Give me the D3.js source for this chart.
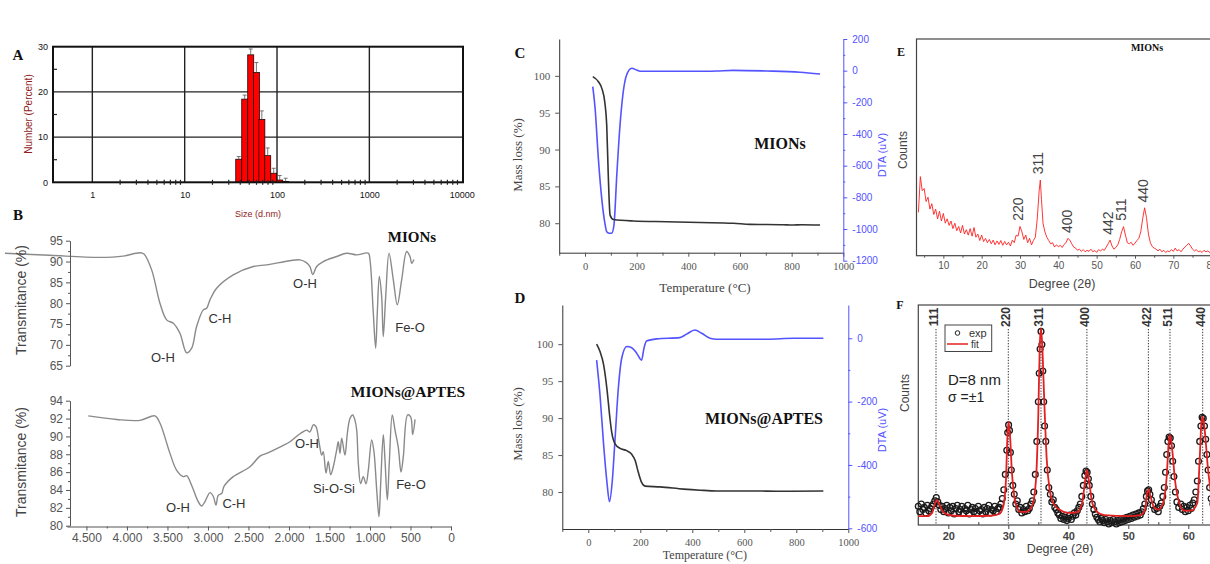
<!DOCTYPE html>
<html>
<head>
<meta charset="utf-8">
<script src="https://cdn.jsdelivr.net/npm/d3@7.9.0/dist/d3.min.js"></script>
<style>
  html, body { margin: 0; padding: 0; background: #fff; }
  svg { display: block; }
</style>
</head>
<body>
<svg id="fig" width="1210" height="564"></svg>
<script>
// ---------- data ----------
// A: DLS number distribution
const sizeBins = [38.5, 44.7, 51.9, 59.8, 68.5, 79.3, 92.1, 107, 124];
const sizeNumber = [5.1, 18.4, 28.2, 24.3, 13.9, 5.9, 2.0, 0.5, 0.2];
const sizeError = [0.6, 0.9, 1.3, 2.2, 1.9, 1.7, 1.1, 1.0, 0.7];
const sizeTicks = [1, 10, 100, 1000, 10000];
const sizeYTicks = [0, 10, 20, 30];

// B: FTIR spectra [wavenumber, transmitance]
const ftirMIONs = [[5506,92.0],[4951,91.5],[4333,91.0],[4049,91.3],[3840,92.1],[3790,91.8],[3695,88.0],
  [3593,80.0],[3510,76.0],[3428,75.2],[3346,72.8],[3263,68.1],[3201,69.2],[3140,74.4],[3058,78.4],
  [3016,78.8],[2975,80.8],[2893,83.6],[2688,86.8],[2441,88.8],[2275,89.2],[1988,90.2],[1864,90.4],
  [1790,89.8],[1741,88.8],[1707,86.9],[1658,88.8],[1577,90.0],[1411,91.2],[1288,92.0],[1164,91.6],
  [1021,92.0],[1000,90.4],[959,77.6],[930,69.2],[910,77.6],[885,86.4],[856,81.6],[836,72.0],
  [806,81.6],[765,92.0],[712,85.6],[663,79.6],[609,85.6],[547,92.4],[506,91.2],[485,89.6],[457,90.5]];
const ftirAPTES = [[4478,92.3],[4127,91.9],[3840,91.8],[3654,92.3],[3593,91.5],[3469,88.1],[3386,86.2],
  [3305,85.5],[3263,85.6],[3201,84.5],[3120,82.7],[3078,82.2],[3037,82.7],[2975,83.7],[2935,83.3],
  [2901,82.3],[2873,83.4],[2831,83.6],[2802,84.4],[2688,85.5],[2481,86.6],[2358,87.8],[2275,88.1],
  [2070,89.0],[1988,89.4],[1864,90.3],[1781,90.7],[1741,90.5],[1700,91.3],[1667,91.1],[1626,89.2],
  [1596,87.9],[1577,88.3],[1543,85.9],[1515,87.2],[1485,85.7],[1453,86.6],[1411,88.5],[1391,89.4],
  [1370,88.1],[1349,89.8],[1309,87.9],[1280,90.3],[1247,92.0],[1214,92.4],[1185,91.8],[1164,90.7],
  [1144,87.0],[1115,84.7],[1083,85.5],[1049,84.7],[1021,86.2],[979,89.6],[951,88.3],[917,84.0],
  [889,81.0],[868,84.7],[836,90.2],[815,87.4],[786,82.9],[762,87.0],[725,92.4],[691,90.7],
  [651,88.8],[617,86.0],[589,87.7],[535,92.4],[498,92.2],[473,90.2],[444,91.9]];
const ftirXTicks = [4500, 4000, 3500, 3000, 2500, 2000, 1500, 1000, 500, 0];
const ftirTopTicks = [65, 70, 75, 80, 85, 90, 95];
const ftirBotTicks = [80, 82, 84, 86, 88, 90, 92, 94];
const ftirNotesMIONs = [['O-H', 3556, 67.1], ['C-H', 2852, 76.4], ['O-H', 1802, 84.8], ['Fe-O', 506, 74.3]];
const ftirNotesAPTES = [['O-H', 3370, 82.1], ['C-H', 2679, 82.5], ['O-H', 1778, 89.2], ['Si-O-Si', 1444, 84.2], ['Fe-O', 494, 84.6]];

// C, D: TGA / DTA [temperature, value]
const massC = [[30,99.9],[52,99.2],[65,98.3],[77,96.3],[84,93.3],[90,86.5],[97,81.1],[110,80.5],[187,80.3],
  [316,80.2],[445,80.1],[574,80.0],[639,79.85],[768,79.8],[800,79.75],[840,79.8],[910,79.75]];
const dtaC = [[30,-101],[39,-237],[51.5,-553],[64.6,-806],[77,-964],[84,-1017],[95,-1027],[103,-1027],
  [112,-975],[123,-659],[135.5,-343],[148,-133],[161,-27],[181,15],[200,4],[213,-4],[316,-4],[445,-4],
  [510,-2],[574,2],[703,-2],[832,-10],[910,-21]];
const massD = [[32,100],[45,99],[59,97.2],[71.5,94],[83.5,89.9],[90,88.1],[103,86.5],[122,85.9],[147.5,85.6],
  [167,85.1],[180,84.3],[192,82.7],[205,81.3],[218,80.8],[276,80.7],[366,80.4],[430,80.25],[494,80.15],
  [622,80.15],[750,80.1],[904,80.15]];
const dtaD = [[32,-69],[45,-179],[59,-337],[71.5,-453],[81.5,-516],[92,-453],[103,-316],[115.5,-158],
  [128.5,-63],[148,-26],[167,-30],[186,-47],[205,-69],[214,-32],[224,-9],[263,-2],[352,2],[378,13],
  [410,26],[436,16],[468,0],[494,-3],[686,-3],[789,0],[904,0]];
const tempTicks = [0, 200, 400, 600, 800, 1000];
const massTicks = [80, 85, 90, 95, 100];
const dtaTicksC = [-1200, -1000, -800, -600, -400, -200, 0, 200];
const dtaTicksD = [-600, -400, -200, 0];

// E: XRD pattern [2theta, counts]
const xrdE = [[3.5,200],[4,365],[4.5,300],[5,310],[5.5,250],[6,270],[6.5,215],[7,240],[7.5,190],[8,215],
  [8.5,170],[9,205],[9.5,160],[10,195],[10.5,150],[11,170],[11.5,140],[12,160],[12.5,125],[13,150],
  [13.5,115],[14,135],[14.5,105],[15,140],[15.5,100],[16,120],[16.5,95],[17,125],[17.5,90],[18,130],
  [18.5,85],[19,100],[19.5,70],[20,95],[20.5,65],[21,80],[21.5,60],[22,75],[22.5,55],[23,72],
  [23.5,50],[24,68],[24.5,52],[25,70],[25.5,48],[26,66],[26.5,50],[27,62],[27.5,45],[28,72],
  [28.5,60],[29,95],[29.5,90],[30,135],[30.5,110],[31,75],[31.5,95],[32,60],[32.5,80],[33,50],
  [33.5,70],[34,85],[34.5,170],[35,300],[35.3,349],[35.6,260],[36,150],[36.5,110],[37,85],[37.5,70],
  [38,55],[38.5,60],[39,40],[39.5,50],[40,42],[40.5,48],[41,38],[41.5,52],[42,60],[42.5,80],
  [43,72],[43.5,55],[44,40],[44.5,35],[45,25],[45.5,30],[46,20],[46.5,28],[47,18],[47.5,25],
  [48,20],[48.5,30],[49,18],[49.5,24],[50,15],[50.5,28],[51,22],[51.5,30],[52,25],[52.5,40],
  [53,55],[53.5,72],[54,45],[54.5,30],[55,38],[55.5,50],[56,75],[56.5,110],[57,134],[57.5,95],
  [58,60],[58.5,55],[59,62],[59.5,48],[60,58],[60.5,70],[61,80],[61.5,110],[62,170],[62.5,221],
  [63,175],[63.5,100],[64,60],[64.5,42],[65,35],[65.5,30],[66,22],[66.5,30],[67,18],[67.5,25],
  [68,15],[68.5,22],[69,18],[69.5,28],[70,20],[70.5,35],[71,22],[71.5,28],[72,18],[72.5,30],
  [73,40],[73.5,48],[74,57],[74.5,45],[75,30],[75.5,22],[76,28],[76.5,18],[77,22],[77.5,15],
  [78,25],[78.5,18],[79,22],[79.5,15],[80,20],[80.5,15],[81,18]];
const xrdETicks = [10, 20, 30, 40, 50, 60, 70, 80];
const xrdEPeaks = [['220', 30.0, 137], ['311', 35.3, 349], ['400', 42.8, 80], ['442', 53.5, 72], ['511', 57.0, 134], ['440', 62.6, 221]];

// F: XRD with fit
const xrdFit = [[15,40],[16.5,40],[17.3,55],[17.8,100],[18.1,114],[18.5,95],[19,65],[19.8,48],[21,42],[24,40],
  [27,42],[28.5,50],[29.2,90],[29.6,200],[29.85,400],[30.05,470],[30.3,400],[30.6,240],[31,130],[31.5,75],
  [32,60],[33,60],[34,90],[34.6,200],[35,500],[35.25,820],[35.45,894],[35.65,820],[36,560],[36.4,300],
  [36.9,160],[37.5,100],[38.5,70],[40,55],[41.5,58],[42.3,100],[42.8,200],[43.1,250],[43.45,200],[44,100],
  [44.8,60],[46,45],[50,40],[52,45],[52.8,70],[53.1,140],[53.35,162],[53.7,130],[54.3,80],[55,70],
  [55.8,100],[56.4,220],[56.75,380],[56.95,409],[57.25,360],[57.8,200],[58.5,100],[59.3,65],[60.5,65],[61.5,100],
  [61.9,300],[62.2,470],[62.4,492],[62.7,440],[63.3,250],[64,120],[65,80],[66,60]];
const xrdExp = [[15,85],[15.25,60],[15.5,95],[15.75,70],[16,80],[16.25,55],[16.5,90],[16.75,65],[17,75],[17.25,85],
  [17.5,95],[17.75,110],[18,125],[18.25,105],[18.5,90],[18.75,70],[19,85],[19.25,60],[19.5,75],[19.75,90],
  [20,55],[20.25,80],[20.5,65],[20.75,85],[21,50],[21.25,75],[21.5,90],[21.75,60],[22,70],[22.25,85],
  [22.5,55],[22.75,75],[23,65],[23.25,90],[23.5,50],[23.75,70],[24,80],[24.25,60],[24.5,75],[24.75,55],
  [25,85],[25.25,65],[25.5,70],[25.75,50],[26,80],[26.25,60],[26.5,75],[26.75,90],[27,55],[27.25,70],
  [27.5,65],[27.75,85],[28,60],[28.25,75],[28.5,80],[28.75,95],[29,120],[29.25,160],[29.5,230],[29.75,340],
  [29.9,420],[30.05,455],[30.2,430],[30.35,330],[30.5,250],[30.75,180],[31,140],[31.25,95],[31.5,110],[31.75,70],
  [32,80],[32.25,55],[32.5,70],[32.75,60],[33,85],[33.25,65],[33.5,75],[33.75,95],[34,110],[34.25,150],
  [34.5,230],[34.75,380],[35,560],[35.15,690],[35.3,800],[35.45,880],[35.6,820],[35.75,700],[35.9,560],[36.05,450],
  [36.25,380],[36.5,250],[36.75,170],[37,140],[37.25,105],[37.5,115],[37.75,80],[38,70],[38.25,55],[38.5,45],
  [38.75,30],[39,40],[39.25,25],[39.5,35],[39.75,20],[40,30],[40.25,45],[40.5,25],[40.75,40],[41,55],
  [41.25,45],[41.5,65],[41.75,80],[42,95],[42.25,130],[42.5,180],[42.75,225],[42.95,245],[43.15,240],[43.35,210],
  [43.5,180],[43.75,130],[44,95],[44.25,70],[44.5,50],[44.75,35],[45,25],[45.25,15],[45.5,30],[45.75,20],
  [46,10],[46.25,25],[46.5,15],[46.75,5],[47,20],[47.25,10],[47.5,25],[47.75,15],[48,5],[48.25,20],
  [48.5,10],[48.75,25],[49,15],[49.25,30],[49.5,20],[49.75,35],[50,25],[50.25,40],[50.5,30],[50.75,45],
  [51,35],[51.25,50],[51.5,40],[51.75,55],[52,45],[52.25,60],[52.5,75],[52.75,95],[53,130],[53.2,155],
  [53.4,160],[53.6,140],[53.85,115],[54.1,90],[54.4,70],[54.75,75],[55,60],[55.25,85],[55.5,100],[55.75,130],
  [56,170],[56.2,240],[56.4,320],[56.6,380],[56.8,400],[57,395],[57.2,360],[57.4,290],[57.6,220],[57.85,150],
  [58.1,105],[58.4,80],[58.75,95],[59,70],[59.25,85],[59.5,60],[59.75,80],[60,65],[60.25,90],[60.5,75],
  [60.75,100],[61,115],[61.25,150],[61.5,200],[61.7,290],[61.9,380],[62.1,450],[62.3,490],[62.5,485],[62.7,450],
  [62.9,390],[63.1,320],[63.3,250],[63.55,170],[63.8,120],[64.1,95],[64.4,75]];
const xrdFTicks = [20, 30, 40, 50, 60];
const xrdFPeaks = [['111', 17.95], ['220', 30.0], ['311', 35.45], ['400', 43.1], ['422', 53.35], ['511', 56.95], ['440', 62.4]];

// ---------- drawing ----------
const svg = d3.select('#fig');
svg.append('rect').attr('width', 1210).attr('height', 564).attr('fill', '#fff');

const SANS = '"Liberation Sans", Arial, sans-serif';
const SERIF = '"Liberation Serif", "Times New Roman", serif';
const BLUE = '#5353ff';
const intFmt = d => String(d); // plain integers, no thousands separator

function txt(g, s, x, y, opts = {}) {
  const t = g.append('text')
    .attr('x', x).attr('y', y)
    .attr('text-anchor', opts.anchor || 'middle')
    .attr('dy', opts.dy || '0.35em')
    .attr('font-family', opts.family || SANS)
    .attr('font-size', opts.size || 12)
    .attr('font-weight', opts.weight || 'normal')
    .attr('fill', opts.fill || '#333')
    .text(s);
  if (opts.rotate) t.attr('transform', `rotate(${opts.rotate},${x},${y})`);
  return t;
}

function styleAxis(g, color, family, size) {
  g.selectAll('path, line').attr('stroke', color);
  g.selectAll('text').attr('fill', color).attr('font-family', family).attr('font-size', size);
}

// ===== Panel A =====
const gA = svg.append('g');
const ax = d3.scaleLog().domain([0.375, 10330]).range([53, 463]);
const ay = d3.scaleLinear().domain([0, 30]).range([182.3, 46.7]);
txt(gA, 'A', 18, 55, { family: SERIF, weight: 'bold', size: 15, fill: '#111' });

// grid
gA.selectAll('.vgrid').data([1, 10, 100, 1000]).join('line')
  .attr('x1', d => ax(d)).attr('x2', d => ax(d)).attr('y1', ay(30)).attr('y2', ay(0))
  .attr('stroke', '#222').attr('stroke-width', 1.4);
gA.selectAll('.hgrid').data([10, 20]).join('line')
  .attr('x1', 53).attr('x2', 463).attr('y1', d => ay(d)).attr('y2', d => ay(d))
  .attr('stroke', '#222').attr('stroke-width', 1.4);

// bars
const binRatio = Math.sqrt(sizeBins[1] / sizeBins[0]);
gA.selectAll('.bar').data(sizeBins).join('rect')
  .attr('x', d => ax(d / binRatio))
  .attr('width', d => ax(d * binRatio) - ax(d / binRatio))
  .attr('y', (d, i) => ay(sizeNumber[i]))
  .attr('height', (d, i) => ay(0) - ay(sizeNumber[i]))
  .attr('fill', '#ff0000').attr('stroke', '#200').attr('stroke-width', 0.8);
// error bars
sizeBins.forEach((d, i) => {
  const cx = ax(d), y0 = ay(sizeNumber[i]), y1 = ay(sizeNumber[i] + sizeError[i]);
  gA.append('line').attr('x1', cx).attr('x2', cx).attr('y1', y0).attr('y2', y1).attr('stroke', '#555').attr('stroke-width', 0.8);
  gA.append('line').attr('x1', cx - 2).attr('x2', cx + 2).attr('y1', y1).attr('y2', y1).attr('stroke', '#555').attr('stroke-width', 0.8);
});

// frame
gA.append('rect').attr('x', 53).attr('y', ay(30)).attr('width', 410).attr('height', ay(0) - ay(30))
  .attr('fill', 'none').attr('stroke', '#111').attr('stroke-width', 2);

// minor x ticks
const minorLog = [];
[1, 10, 100, 1000].forEach(p => d3.range(2, 10).forEach(m => minorLog.push(p * m)));
gA.selectAll('.mt').data(minorLog).join('line')
  .attr('x1', d => ax(d)).attr('x2', d => ax(d)).attr('y1', ay(0) - 2.5).attr('y2', ay(0) + 2.5)
  .attr('stroke', '#222').attr('stroke-width', 1.2);
gA.selectAll('.my').data([5, 15, 25]).join('line')
  .attr('x1', 53).attr('x2', 57).attr('y1', d => ay(d)).attr('y2', d => ay(d))
  .attr('stroke', '#222').attr('stroke-width', 1.2);

const axA = gA.append('g').attr('transform', `translate(0,${ay(0)})`)
  .call(d3.axisBottom(ax).tickValues(sizeTicks).tickFormat(intFmt).tickSize(0).tickPadding(9));
axA.select('.domain').remove();
styleAxis(axA, '#111', SANS, 9);
const ayA = gA.append('g').attr('transform', 'translate(53,0)')
  .call(d3.axisLeft(ay).tickValues(sizeYTicks).tickSize(0).tickPadding(5));
ayA.select('.domain').remove();
styleAxis(ayA, '#111', SANS, 9);
txt(gA, 'Number (Percent)', 28, 114, { rotate: -90, size: 10, fill: '#8e1c1c' });
txt(gA, 'Size (d.nm)', 258, 214, { size: 9, fill: '#8e1c1c' });

// ===== Panel B =====
const gB = svg.append('g');
const bx = d3.scaleLinear().domain([0, 4740]).range([451, 67]);
const byTop = d3.scaleLinear().domain([65, 95]).range([365.7, 240.7]);
const byBot = d3.scaleLinear().domain([80, 94]).range([525.7, 400.7]);
txt(gB, 'B', 18, 215, { family: SERIF, weight: 'bold', size: 15, fill: '#111' });

const lineTop = d3.line().x(d => bx(d[0])).y(d => byTop(d[1])).curve(d3.curveCatmullRom.alpha(0.5));
const lineBot = d3.line().x(d => bx(d[0])).y(d => byBot(d[1])).curve(d3.curveCatmullRom.alpha(0.5));
gB.append('path').attr('d', lineTop(ftirMIONs)).attr('fill', 'none').attr('stroke', '#8a8a8a').attr('stroke-width', 1.4);
gB.append('path').attr('d', lineBot(ftirAPTES)).attr('fill', 'none').attr('stroke', '#8a8a8a').attr('stroke-width', 1.4);

const yTopAxis = gB.append('g').attr('transform', 'translate(70,0)')
  .call(d3.axisLeft(byTop).tickValues(ftirTopTicks).tickSize(4).tickSizeOuter(0).tickPadding(3));
styleAxis(yTopAxis, '#555', SANS, 12);
gB.append('g').attr('transform', 'translate(70,0)')
  .call(d3.axisLeft(byTop).tickValues(d3.range(67.5, 95, 5)).tickSize(2).tickFormat(''))
  .call(g => { g.select('.domain').remove(); g.selectAll('line').attr('stroke', '#555'); });
const yBotAxis = gB.append('g').attr('transform', 'translate(70,0)')
  .call(d3.axisLeft(byBot).tickValues(ftirBotTicks).tickSize(4).tickSizeOuter(0).tickPadding(3));
styleAxis(yBotAxis, '#555', SANS, 12);
gB.append('g').attr('transform', 'translate(70,0)')
  .call(d3.axisLeft(byBot).tickValues(d3.range(81, 94, 2)).tickSize(2).tickFormat(''))
  .call(g => { g.select('.domain').remove(); g.selectAll('line').attr('stroke', '#555'); });

const dotFmt = d => d >= 1000 ? d3.format(',')(d).replace(',', '.') : String(d);
const xB = gB.append('g').attr('transform', 'translate(0,526.5)')
  .call(d3.axisBottom(bx).tickValues(ftirXTicks).tickFormat(dotFmt).tickSize(4).tickSizeOuter(0).tickPadding(3));
styleAxis(xB, '#555', SANS, 12);
gB.append('g').attr('transform', 'translate(0,526.5)')
  .call(d3.axisBottom(bx).tickValues(d3.range(250, 4500, 500)).tickSize(2).tickFormat(''))
  .call(g => { g.select('.domain').remove(); g.selectAll('line').attr('stroke', '#555'); });

txt(gB, 'Transmitance (%)', 21, 300, { rotate: -90, size: 14, fill: '#444' });
txt(gB, 'Transmitance (%)', 21, 462, { rotate: -90, size: 14, fill: '#444' });
ftirNotesMIONs.forEach(n => txt(gB, n[0], bx(n[1]), byTop(n[2]), { size: 13, fill: '#333' }));
ftirNotesAPTES.forEach(n => txt(gB, n[0], bx(n[1]), byBot(n[2]), { size: 13, fill: '#333' }));
txt(gB, 'MIONs', 412, 237, { family: SERIF, weight: 'bold', size: 15, fill: '#111' });
txt(gB, 'MIONs@APTES', 408, 392, { family: SERIF, weight: 'bold', size: 15.5, fill: '#111' });

// ===== Panels C and D =====
function thermoPanel(o) {
  const g = svg.append('g');
  const x = d3.scaleLinear().domain([-100, 1000]).range(o.xr);
  const yl = d3.scaleLinear().domain(o.massDom).range(o.yr);
  const yr = d3.scaleLinear().domain(o.dtaDom).range(o.yr2);
  txt(g, o.letter, 520, o.letterY, { family: SERIF, weight: 'bold', size: 15, fill: '#111' });

  const mline = d3.line().x(d => x(d[0])).y(d => yl(d[1])).curve(d3.curveMonotoneX);
  const dline = d3.line().x(d => x(d[0])).y(d => yr(d[1])).curve(d3.curveMonotoneX);
  g.append('path').attr('d', dline(o.dta)).attr('fill', 'none').attr('stroke', BLUE).attr('stroke-width', 1.6);
  g.append('path').attr('d', mline(o.mass)).attr('fill', 'none').attr('stroke', '#333').attr('stroke-width', 1.6);

  const bottom = o.yr[0];
  const xa = g.append('g').attr('transform', `translate(0,${bottom})`)
    .call(d3.axisBottom(x).tickValues(tempTicks).tickFormat(intFmt).tickSize(4).tickSizeOuter(0).tickPadding(6));
  styleAxis(xa, '#555', SERIF, 10.5);
  xa.select('.domain').attr('stroke', '#333');
  g.append('g').attr('transform', `translate(0,${bottom})`)
    .call(d3.axisBottom(x).tickValues([-100, 100, 300, 500, 700, 900]).tickSize(3).tickFormat(''))
    .call(s => { s.select('.domain').remove(); s.selectAll('line').attr('stroke', '#555'); });

  const la = g.append('g').attr('transform', `translate(${o.xr[0]},0)`)
    .call(d3.axisLeft(yl).tickValues(massTicks).tickSize(4).tickSizeOuter(0).tickPadding(5));
  styleAxis(la, '#555', SERIF, 11);
  la.select('.domain').attr('stroke', '#333');

  const ra = g.append('g').attr('transform', `translate(${o.xr[1]},0)`)
    .call(d3.axisRight(yr).tickValues(o.dtaTicks).tickFormat(intFmt).tickSize(4).tickSizeOuter(0).tickPadding(5));
  styleAxis(ra, BLUE, SANS, 10);
  g.append('g').attr('transform', `translate(${o.xr[1]},0)`)
    .call(d3.axisRight(yr).tickValues(o.dtaMinor).tickSize(2).tickFormat(''))
    .call(s => { s.select('.domain').remove(); s.selectAll('line').attr('stroke', BLUE); });

  txt(g, 'Mass loss (%)', 517, o.labelY, { rotate: -90, family: SERIF, size: 13, fill: '#444' });
  txt(g, 'DTA (uV)', 882, o.dtaLabelY, { rotate: -90, size: 11, fill: BLUE });
  txt(g, 'Temperature (°C)', 705, o.tempY, { family: SERIF, size: o.tempSize, fill: '#444' });
  txt(g, o.title, o.titleX, o.titleY, { family: SERIF, weight: 'bold', size: 16, fill: '#111' });
}

thermoPanel({
  letter: 'C', letterY: 53, xr: [559.2, 843.3], yr: [252.7, 39], yr2: [260.7, 39],
  massDom: [76, 105], dtaDom: [-1200, 200], mass: massC, dta: dtaC,
  dtaTicks: dtaTicksC, dtaMinor: d3.range(-1100, 200, 200),
  labelY: 155, dtaLabelY: 155, tempY: 287, tempSize: 13, title: 'MIONs', titleX: 780, titleY: 143
});
thermoPanel({
  letter: 'D', letterY: 298, xr: [562.3, 848.3], yr: [529, 305], yr2: [528.3, 305],
  massDom: [75, 105.3], dtaDom: [-600, 105], mass: massD, dta: dtaD,
  dtaTicks: dtaTicksD, dtaMinor: [-500, -300, -100],
  labelY: 424, dtaLabelY: 430, tempY: 555, tempSize: 12, title: 'MIONs@APTES', titleX: 764, titleY: 418
});

// ===== Panel E =====
const gE = svg.append('g');
const ex = d3.scaleLinear().domain([3, 90]).range([916.5, 1250]);
const ey = d3.scaleLinear().domain([0, 1000]).range([255.7, 39]);
gE.append('rect').attr('x', 916.5).attr('y', 39).attr('width', 320).attr('height', 216.7)
  .attr('fill', 'none').attr('stroke', '#444').attr('stroke-width', 1.2);
gE.append('path')
  .attr('d', d3.line().x(d => ex(d[0])).y(d => ey(d[1]))(xrdE))
  .attr('fill', 'none').attr('stroke', '#ff2020').attr('stroke-width', 0.9);
const xE = gE.append('g').attr('transform', 'translate(0,255.7)')
  .call(d3.axisBottom(ex).tickValues(xrdETicks).tickSize(3).tickSizeOuter(0).tickPadding(3));
xE.select('.domain').remove();
styleAxis(xE, '#555', SANS, 10);
gE.append('g').attr('transform', 'translate(0,255.7)')
  .call(d3.axisBottom(ex).tickValues(d3.range(5, 90, 10)).tickSize(2).tickFormat(''))
  .call(s => { s.select('.domain').remove(); s.selectAll('line').attr('stroke', '#555'); });
xrdEPeaks.forEach(p => txt(gE, p[0], ex(p[1]) - 2, ey(p[2]) - 17, { rotate: -90, size: 14, fill: '#444' }));
txt(gE, 'E', 901, 52, { family: SERIF, weight: 'bold', size: 12, fill: '#111' });
txt(gE, 'MIONs', 1147, 47, { family: SERIF, weight: 'bold', size: 10, fill: '#111' });
txt(gE, 'Counts', 903, 150, { rotate: -90, size: 12, fill: '#444' });
txt(gE, 'Degree (2θ)', 1062, 284, { size: 12.5, fill: '#444' });

// ===== Panel F =====
const gF = svg.append('g');
const fx = d3.scaleLinear().domain([15, 70]).range([918.3, 1248.3]);
const fy = d3.scaleLinear().domain([0, 1000]).range([525, 305]);
gF.append('rect').attr('x', 918.3).attr('y', 305).attr('width', 320).attr('height', 220)
  .attr('fill', 'none').attr('stroke', '#444').attr('stroke-width', 1.2);
gF.selectAll('.pk').data(xrdFPeaks).join('line')
  .attr('x1', d => fx(d[1])).attr('x2', d => fx(d[1])).attr('y1', 329).attr('y2', 525)
  .attr('stroke', '#333').attr('stroke-width', 1).attr('stroke-dasharray', '1.3,1.5');
gF.selectAll('.exp').data(xrdExp).join('circle')
  .attr('cx', d => fx(d[0])).attr('cy', d => fy(d[1])).attr('r', 2.9)
  .attr('fill', 'none').attr('stroke', '#1a1a1a').attr('stroke-width', 1.3);
gF.append('path')
  .attr('d', d3.line().x(d => fx(d[0])).y(d => fy(d[1])).curve(d3.curveMonotoneX)(xrdFit))
  .attr('fill', 'none').attr('stroke', '#e32020').attr('stroke-width', 1.8);
xrdFPeaks.forEach(p => txt(gF, p[0], fx(p[1]) - 2, 317, { rotate: -90, size: 12, weight: 'bold', fill: '#333' }));
const xF = gF.append('g').attr('transform', 'translate(0,525)')
  .call(d3.axisBottom(fx).tickValues(xrdFTicks).tickSize(4).tickSizeOuter(0).tickPadding(3));
xF.select('.domain').remove();
styleAxis(xF, '#444', SANS, 11);
xF.selectAll('text').attr('font-weight', 'bold');
gF.append('g').attr('transform', 'translate(0,525)')
  .call(d3.axisBottom(fx).tickValues(d3.range(25, 70, 10)).tickSize(-3).tickFormat(''))
  .call(s => { s.select('.domain').remove(); s.selectAll('line').attr('stroke', '#444'); });

// legend
gF.append('rect').attr('x', 945).attr('y', 325).attr('width', 46.7).attr('height', 26.5)
  .attr('fill', '#fff').attr('stroke', '#444').attr('stroke-width', 1);
gF.append('circle').attr('cx', 957.5).attr('cy', 333).attr('r', 2.3).attr('fill', 'none').attr('stroke', '#222');
txt(gF, 'exp', 969, 333, { anchor: 'start', size: 11, fill: '#333' });
gF.append('line').attr('x1', 947).attr('x2', 968).attr('y1', 344).attr('y2', 344).attr('stroke', '#e32020').attr('stroke-width', 1.5);
txt(gF, 'fit', 971, 344, { anchor: 'start', size: 10, fill: '#333' });
txt(gF, 'D=8 nm', 948, 380, { anchor: 'start', size: 15, fill: '#222' });
txt(gF, 'σ =±1', 948, 397, { anchor: 'start', size: 14, fill: '#222' });
txt(gF, 'F', 900, 305, { family: SERIF, weight: 'bold', size: 12, fill: '#111' });
txt(gF, 'Counts', 905, 393, { rotate: -90, size: 12, fill: '#444' });
txt(gF, 'Degree (2θ)', 1060, 549, { size: 12.5, fill: '#444' });
</script>
</body>
</html>
